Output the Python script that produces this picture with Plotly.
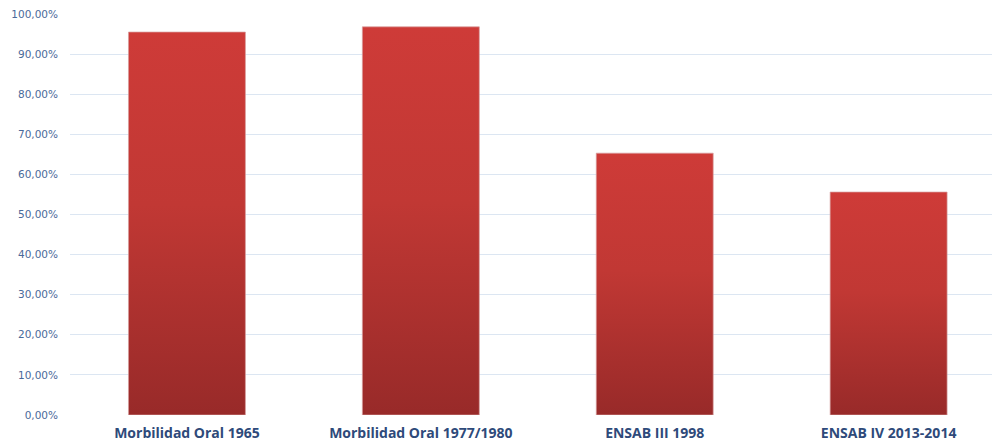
import plotly.graph_objects as go

categories = ["Morbilidad Oral 1965", "Morbilidad Oral 1977/1980", "ENSAB III 1998", "ENSAB IV 2013-2014"]
values = [95.5, 96.8, 65.3, 55.6]
y_ticks = [0, 10, 20, 30, 40, 50, 60, 70, 80, 90, 100]
y_tick_labels = ["0,00%", "10,00%", "20,00%", "30,00%", "40,00%", "50,00%",
                 "60,00%", "70,00%", "80,00%", "90,00%", "100,00%"]

half_width = 0.25
fig = go.Figure()
for i, (cat, v) in enumerate(zip(categories, values)):
    fig.add_trace(go.Scatter(
        x=[i - half_width, i + half_width, i + half_width, i - half_width, i - half_width],
        y=[0, 0, v, v, 0],
        mode="lines",
        fill="toself",
        line=dict(color="rgba(215,160,160,0.7)", width=1),
        fillgradient=dict(type="vertical",
                          colorscale=[[0, "#982a29"], [0.55, "#c13834"], [1, "#ce3b38"]]),
        name=cat,
        hoverinfo="text",
        text=f"{cat}: {v:.2f}%".replace(".", ","),
        showlegend=False,
    ))

fig.update_layout(
    width=992, height=443,
    margin=dict(l=70, r=0, t=14, b=28),
    paper_bgcolor="white", plot_bgcolor="white",
    showlegend=False,
)
fig.update_xaxes(
    range=[-0.5, 3.442],
    tickvals=list(range(len(categories))),
    ticktext=categories,
    showgrid=False, zeroline=False, showline=False, ticks="",
    tickfont=dict(family="Open Sans", size=14, color="#2e4a7a", weight="bold"),
    ticklabelstandoff=8,
    fixedrange=True,
)
fig.update_yaxes(
    range=[0, 100],
    tickvals=y_ticks, ticktext=y_tick_labels,
    showgrid=True, gridcolor="#dce6f2", gridwidth=1,
    zeroline=False, showline=False, ticks="",
    tickfont=dict(family="DejaVu Sans", size=10.5, color="#4a6a9a"),
    ticklabelstandoff=11,
    fixedrange=True,
)

fig.write_html("out.html")
